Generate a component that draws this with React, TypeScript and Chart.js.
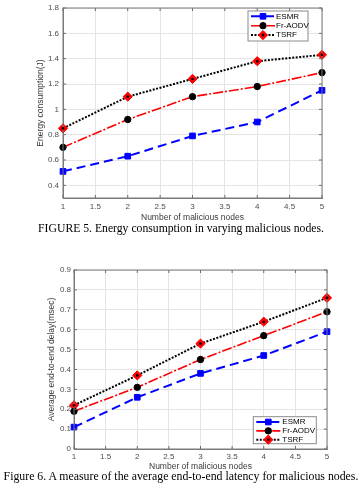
import React, { useEffect, useRef } from "react";
import { Chart, registerables } from "chart.js";

Chart.register(...registerables);

const nodes = [1, 2, 3, 4, 5];
const seriesNames = ["ESMR", "Fr-AODV", "TSRF"];

const energyESMR = [0.51, 0.63, 0.79, 0.9, 1.15];
const energyFrAODV = [0.7, 0.92, 1.1, 1.18, 1.29];
const energyTSRF = [0.85, 1.1, 1.24, 1.38, 1.43];

const delayESMR = [0.11, 0.26, 0.38, 0.47, 0.59];
const delayFrAODV = [0.19, 0.31, 0.45, 0.57, 0.69];
const delayTSRF = [0.22, 0.37, 0.53, 0.64, 0.76];

const xTickValues = [1, 1.5, 2, 2.5, 3, 3.5, 4, 4.5, 5];
const energyTickValues = [0.4, 0.6, 0.8, 1.0, 1.2, 1.4, 1.6, 1.8];
const delayTickValues = [0, 0.1, 0.2, 0.3, 0.4, 0.5, 0.6, 0.7, 0.8, 0.9];

const xTitle = "Number of malicious nodes";
const energyTitle = "Energy consumption(J)";
const delayTitle = "Average end-to-end delay(msec)";
const caption1 = "FIGURE 5. Energy consumption in varying malicious nodes.";
const caption2 = "Figure 6. A measure of the average end-to-end latency for malicious nodes.";

const SANS = "'Liberation Sans', Arial, sans-serif";
const SERIF = "'Liberation Serif', 'Times New Roman', serif";

const styles = [
  { color: "#0000ff", width: 2, dash: [9, 5], marker: "rect", mFill: "#0000ff", mStroke: "#0000ff", r: 4 },
  { color: "#ff0000", width: 1.6, dash: [10, 2, 2, 2], marker: "circle", mFill: "#000000", mStroke: "#000000", r: 3.2 },
  { color: "#000000", width: 2, dash: [2, 1.5], marker: "rectRot", mFill: "#ff0000", mStroke: "#ff0000", r: 4.6 },
];

function fmt(v: number) {
  return String(parseFloat(v.toFixed(2)));
}

function drawMarker(ctx: CanvasRenderingContext2D, kind: string, x: number, y: number, r: number, fill: string, stroke: string) {
  ctx.save();
  ctx.setLineDash([]);
  ctx.fillStyle = fill;
  ctx.strokeStyle = stroke;
  ctx.lineWidth = 1;
  ctx.beginPath();
  if (kind === "rect") {
    const s = Math.SQRT1_2 * r;
    ctx.rect(x - s, y - s, 2 * s, 2 * s);
  } else if (kind === "circle") {
    ctx.arc(x, y, r, 0, Math.PI * 2);
  } else {
    ctx.moveTo(x - r, y);
    ctx.lineTo(x, y - r);
    ctx.lineTo(x + r, y);
    ctx.lineTo(x, y + r);
    ctx.closePath();
  }
  ctx.fill();
  ctx.stroke();
  if (kind === "rectRot") {
    ctx.beginPath();
    ctx.fillStyle = "#000";
    ctx.arc(x, y, 1.3, 0, Math.PI * 2);
    ctx.fill();
  }
  ctx.restore();
}

type LegendSpec = {
  anchor: "top" | "bottom";
  dx: number;
  dy: number;
  w: number;
  h: number;
  rowTop: number;
  rowH: number;
  lineStart: number;
  lineEnd: number;
  textX: number;
};

function makeDecor(lg: LegendSpec) {
  return {
    id: "decor",
    afterDatasetsDraw(chart: any) {
      const ctx: CanvasRenderingContext2D = chart.ctx;
      const a = chart.chartArea;
      const xs = chart.scales.x;
      const ys = chart.scales.y;
      ctx.save();
      // inward ticks
      ctx.strokeStyle = "#6b6b6b";
      ctx.lineWidth = 1;
      ctx.setLineDash([]);
      ctx.beginPath();
      xs.ticks.forEach((t: any) => {
        const px = xs.getPixelForValue(t.value);
        ctx.moveTo(px, a.bottom);
        ctx.lineTo(px, a.bottom - 3);
        ctx.moveTo(px, a.top);
        ctx.lineTo(px, a.top + 3);
      });
      ys.ticks.forEach((t: any) => {
        const py = ys.getPixelForValue(t.value);
        ctx.moveTo(a.left, py);
        ctx.lineTo(a.left + 3, py);
        ctx.moveTo(a.right, py);
        ctx.lineTo(a.right - 3, py);
      });
      ctx.stroke();
      ctx.strokeStyle = "#7a7a7a";
      ctx.strokeRect(a.left, a.top, a.right - a.left, a.bottom - a.top);

      // black centre dots in TSRF diamonds
      const meta = chart.getDatasetMeta(2);
      ctx.fillStyle = "#000";
      meta.data.forEach((p: any) => {
        ctx.beginPath();
        ctx.arc(p.x, p.y, 1.3, 0, Math.PI * 2);
        ctx.fill();
      });

      // legend
      const x0 = a.right - lg.dx - lg.w;
      const y0 = lg.anchor === "top" ? a.top + lg.dy : a.bottom - lg.dy - lg.h;
      ctx.fillStyle = "#ffffff";
      ctx.fillRect(x0, y0, lg.w, lg.h);
      ctx.strokeStyle = "#8a8a8a";
      ctx.lineWidth = 1;
      ctx.strokeRect(x0, y0, lg.w, lg.h);
      chart.data.datasets.forEach((ds: any, i: number) => {
        const st = styles[i];
        const y = y0 + lg.rowTop + i * lg.rowH;
        ctx.save();
        ctx.strokeStyle = st.color;
        ctx.lineWidth = st.width;
        ctx.setLineDash(st.dash);
        ctx.beginPath();
        ctx.moveTo(x0 + lg.lineStart, y);
        ctx.lineTo(x0 + lg.lineEnd, y);
        ctx.stroke();
        ctx.restore();
        drawMarker(ctx, st.marker, x0 + (lg.lineStart + lg.lineEnd) / 2, y, st.r, st.mFill, st.mStroke);
        ctx.fillStyle = "#000";
        ctx.font = `8px ${SANS}`;
        ctx.textBaseline = "middle";
        ctx.textAlign = "left";
        ctx.fillText(ds.label, x0 + lg.textX, y);
      });
      ctx.restore();
    },
  };
}

type Spec = {
  series: number[][];
  yMin: number;
  yMax: number;
  yTicks: number[];
  yTitle: string;
  padLeft: number;
  padTop: number;
  padRight: number;
  yWidth: number;
  xHeight: number;
  yTickPad: number;
  yTitlePad: number;
  xTickPad: number;
  xTitlePad: number;
  legend: LegendSpec;
};

function buildConfig(spec: Spec): any {
  const datasets = spec.series.map((vals, i) => {
    const st = styles[i];
    return {
      label: seriesNames[i],
      data: nodes.map((x, j) => ({ x, y: vals[j] })),
      borderColor: st.color,
      backgroundColor: st.color,
      borderWidth: st.width,
      borderDash: st.dash,
      pointStyle: st.marker,
      pointRadius: st.r,
      pointBackgroundColor: st.mFill,
      pointBorderColor: st.mStroke,
      pointBorderWidth: 1,
      tension: 0,
      fill: false,
      clip: false,
    };
  });
  return {
    type: "line",
    data: { datasets },
    options: {
      animation: false,
      responsive: false,
      events: [],
      layout: { padding: { left: spec.padLeft, top: spec.padTop, right: spec.padRight, bottom: 0 } },
      plugins: { legend: { display: false }, tooltip: { enabled: false } },
      scales: {
        x: {
          type: "linear",
          min: 1,
          max: 5,
          afterBuildTicks: (s: any) => {
            s.ticks = xTickValues.map((v) => ({ value: v }));
          },
          afterFit: (s: any) => {
            s.height = spec.xHeight;
            s.paddingLeft = 0;
            s.paddingRight = 0;
          },
          grid: { color: "#e4e4e4", drawTicks: false },
          border: { display: true, color: "#7a7a7a" },
          ticks: {
            padding: spec.xTickPad,
            maxRotation: 0,
            autoSkip: false,
            color: "#4d4d4d",
            font: { family: SANS, size: 8 },
            callback: (v: any) => fmt(Number(v)),
          },
          title: {
            display: true,
            text: xTitle,
            color: "#3a3a3a",
            font: { family: SANS, size: 8.5 },
            padding: { top: 0, bottom: spec.xTitlePad },
          },
        },
        y: {
          type: "linear",
          min: spec.yMin,
          max: spec.yMax,
          afterBuildTicks: (s: any) => {
            s.ticks = spec.yTicks.map((v) => ({ value: v }));
          },
          afterFit: (s: any) => {
            s.width = spec.yWidth;
            s.paddingTop = 0;
            s.paddingBottom = 0;
          },
          grid: { color: "#e4e4e4", drawTicks: false },
          border: { display: true, color: "#7a7a7a" },
          ticks: {
            padding: spec.yTickPad,
            autoSkip: false,
            color: "#4d4d4d",
            font: { family: SANS, size: 8 },
            callback: (v: any) => fmt(Number(v)),
          },
          title: {
            display: true,
            text: spec.yTitle,
            color: "#3a3a3a",
            font: { family: SANS, size: 8.5 },
            padding: { top: spec.yTitlePad, bottom: 0 },
          },
        },
      },
    },
    plugins: [makeDecor(spec.legend)],
  };
}

const spec1: Spec = {
  series: [energyESMR, energyFrAODV, energyTSRF],
  yMin: 0.3,
  yMax: 1.8,
  yTicks: energyTickValues,
  yTitle: energyTitle,
  padLeft: 30,
  padTop: 8,
  padRight: 40,
  yWidth: 33,
  xHeight: 28,
  yTickPad: 4,
  yTitlePad: 6,
  xTickPad: 4,
  xTitlePad: 3,
  legend: { anchor: "top", dx: 14, dy: 3, w: 60, h: 30, rowTop: 5.3, rowH: 9.4, lineStart: 3, lineEnd: 27, textX: 28 },
};

const spec2: Spec = {
  series: [delayESMR, delayFrAODV, delayTSRF],
  yMin: 0,
  yMax: 0.9,
  yTicks: delayTickValues,
  yTitle: delayTitle,
  padLeft: 40,
  padTop: 10,
  padRight: 35,
  yWidth: 34,
  xHeight: 25,
  yTickPad: 3,
  yTitlePad: 7,
  xTickPad: 3,
  xTitlePad: 2,
  legend: { anchor: "bottom", dx: 10.7, dy: 5.3, w: 63, h: 27, rowTop: 5.3, rowH: 8.85, lineStart: 3, lineEnd: 27, textX: 29 },
};

function LineChart({ spec, top, height }: { spec: Spec; top: number; height: number }) {
  const ref = useRef<HTMLCanvasElement>(null);
  useEffect(() => {
    if (!ref.current) return;
    const chart = new Chart(ref.current, buildConfig(spec));
    return () => chart.destroy();
  }, [spec]);
  return (
    <canvas
      ref={ref}
      width={362}
      height={height}
      style={{ position: "absolute", left: 0, top, width: 362, height }}
    />
  );
}

function Caption({ text, centerY, size }: { text: string; centerY: number; size: number }) {
  return (
    <div
      style={{
        position: "absolute",
        left: 0,
        top: centerY - 7,
        width: 362,
        lineHeight: "14px",
        fontSize: size,
        fontFamily: SERIF,
        color: "#000",
        textAlign: "center",
        whiteSpace: "nowrap",
      }}
    >
      {text}
    </div>
  );
}

export default function App() {
  return (
    <div style={{ position: "absolute", left: 0, top: 0, width: 362, height: 488, background: "#fff", overflow: "hidden" }}>
      <LineChart spec={spec1} top={0} height={226} />
      <Caption text={caption1} centerY={229} size={11.7} />
      <LineChart spec={spec2} top={260} height={214} />
      <Caption text={caption2} centerY={476} size={11.8} />
    </div>
  );
}
